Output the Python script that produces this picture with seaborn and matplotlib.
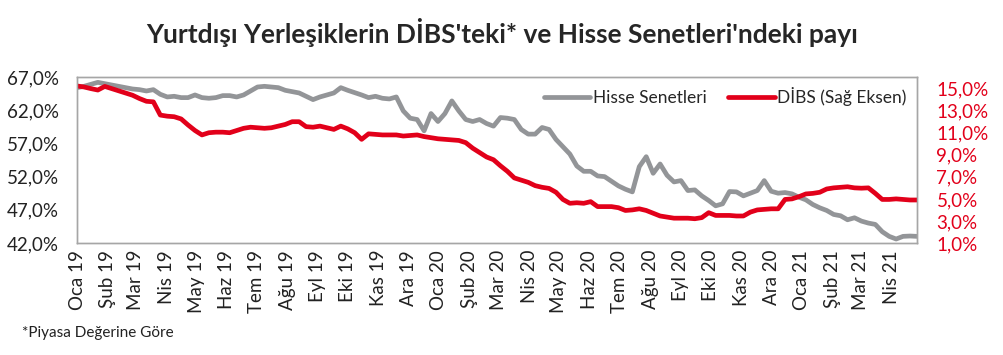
import pandas as pd
import matplotlib
matplotlib.use('Agg')
import matplotlib.pyplot as plt
import matplotlib.dates as mdates
from matplotlib.ticker import FuncFormatter, FixedLocator
from matplotlib.lines import Line2D
import seaborn as sns

sns.set_style('white')
plt.rcParams['font.family'] = ['Lato', 'DejaVu Sans']

# weekly data, Jan 2019 - May 2021
start_date = '2019-01-01'
n_weeks = 122

hisse = [65.4, 65.6, 65.9, 66.2, 66.0, 65.8, 65.6, 65.4, 65.2, 65.1,
         64.9, 65.1, 64.4, 64.0, 64.1, 63.9, 63.9, 64.3, 63.9, 63.8,
         63.9, 64.2, 64.2, 64.0, 64.3, 64.9, 65.5, 65.6, 65.5, 65.4,
         65.0, 64.8, 64.6, 64.1, 63.6, 64.0, 64.3, 64.6, 65.4, 65.0,
         64.65, 64.3, 63.9, 64.1, 63.8, 63.7, 64.0, 61.9, 60.8, 60.6,
         58.9, 61.5, 60.3, 61.5, 63.4, 61.9, 60.6, 60.3, 60.6, 60.0,
         59.6, 60.9, 60.8, 60.6, 59.1, 58.4, 58.4, 59.4, 59.1, 57.6,
         56.5, 55.4, 53.6, 52.8, 52.8, 52.1, 52.0, 51.3, 50.6, 50.1,
         49.7, 53.5, 55.0, 52.5, 53.9, 52.2, 51.2, 51.4, 49.9, 50.0,
         49.1, 48.4, 47.6, 47.9, 49.75, 49.7, 49.1, 49.5, 49.9, 51.4,
         49.8, 49.5, 49.6, 49.4, 48.9, 48.5, 47.8, 47.3, 46.9, 46.3,
         46.1, 45.5, 45.8, 45.3, 45.0, 44.8, 43.7, 43.0, 42.6, 43.0,
         43.05, 43.0]

dibs = [15.24, 15.15, 15.0, 14.87, 15.2, 15.0, 14.8, 14.6, 14.4, 14.1,
        13.85, 13.8, 12.6, 12.5, 12.45, 12.25, 11.7, 11.2, 10.8, 11.0,
        11.05, 11.05, 11.0, 11.2, 11.4, 11.5, 11.45, 11.4, 11.45, 11.6,
        11.75, 12.0, 12.0, 11.55, 11.5, 11.6, 11.45, 11.3, 11.6, 11.35,
        11.0, 10.4, 10.9, 10.85, 10.8, 10.8, 10.8, 10.7, 10.75, 10.8,
        10.65, 10.55, 10.45, 10.4, 10.35, 10.3, 10.1, 9.6, 9.2, 8.8,
        8.55, 8.0, 7.5, 6.9, 6.7, 6.5, 6.2, 6.05, 5.95, 5.6,
        4.95, 4.6, 4.65, 4.6, 4.75, 4.3, 4.3, 4.3, 4.2, 3.95,
        4.0, 4.1, 3.95, 3.7, 3.45, 3.35, 3.25, 3.25, 3.25, 3.2,
        3.3, 3.75, 3.5, 3.5, 3.5, 3.45, 3.45, 3.8, 4.0, 4.05,
        4.1, 4.1, 4.95, 5.0, 5.2, 5.45, 5.5, 5.6, 5.9, 6.0,
        6.05, 6.1, 6.0, 5.97, 6.0, 5.5, 4.95, 4.95, 5.0, 4.95,
        4.9, 4.9]

aylar = ['Oca', 'Şub', 'Mar', 'Nis', 'May', 'Haz',
         'Tem', 'Ağu', 'Eyl', 'Eki', 'Kas', 'Ara']
sol_ticks = [42, 47, 52, 57, 62, 67]
sag_ticks = [1, 3, 5, 7, 9, 11, 13, 15]

dates = pd.date_range(start_date, periods=n_weeks, freq='7D')
df = pd.DataFrame({'Tarih': dates, 'Hisse': hisse, 'DIBS': dibs})

gri = '#939598'
kirmizi = '#e2001a'

fig, ax = plt.subplots(figsize=(10.04, 3.55), dpi=100)
fig.subplots_adjust(left=0.0767, right=0.9133, top=0.783, bottom=0.3155)
ax2 = ax.twinx()

sns.lineplot(data=df, x='Tarih', y='Hisse', ax=ax, color=gri, lw=3.4)
sns.lineplot(data=df, x='Tarih', y='DIBS', ax=ax2, color=kirmizi, lw=3.4)

ax.set_xlim(dates[0], dates[-1])
ax.set_ylim(42, 67)
ax2.set_ylim(1, 16.05)
ax.set_xlabel('')
ax.set_ylabel('')
ax2.set_ylabel('')

pct = FuncFormatter(lambda v, p: ('%.1f%%' % v).replace('.', ','))
ax.yaxis.set_major_locator(FixedLocator(sol_ticks))
ax.yaxis.set_major_formatter(pct)
ax2.yaxis.set_major_locator(FixedLocator(sag_ticks))
ax2.yaxis.set_major_formatter(pct)

ax.xaxis.set_major_locator(mdates.MonthLocator())
ax.xaxis.set_major_formatter(FuncFormatter(
    lambda v, p: '%s %s' % (aylar[mdates.num2date(v).month - 1],
                            mdates.num2date(v).strftime('%y'))))

ax.tick_params(axis='x', labelrotation=90, labelsize=13.5, length=0, pad=5,
               labelcolor='#222222')
ax.tick_params(axis='y', labelsize=13.5, length=0, pad=13, labelcolor='#222222')
ax2.tick_params(axis='y', labelsize=13.5, length=0, pad=14, labelcolor=kirmizi)

for a in (ax, ax2):
    for s in a.spines.values():
        s.set_color('#a6a6a6')
        s.set_linewidth(1)

handles = [Line2D([], [], color=gri, lw=3.4),
           Line2D([], [], color=kirmizi, lw=3.4)]
ax2.legend(handles, ['Hisse Senetleri', 'DİBS (Sağ Eksen)'], ncol=2,
           loc='upper right', frameon=False, fontsize=12.5, handlelength=2.7,
           handletextpad=0.15, columnspacing=1.2, borderaxespad=0.2)

fig.suptitle("Yurtdışı Yerleşiklerin DİBS'teki* ve Hisse Senetleri'ndeki payı",
             x=0.5, y=0.95, fontsize=19, fontweight='bold')
fig.text(0.022, 0.05, '*Piyasa Değerine Göre', fontsize=11, color='#222222')

fig.savefig('out.png', dpi=100)
